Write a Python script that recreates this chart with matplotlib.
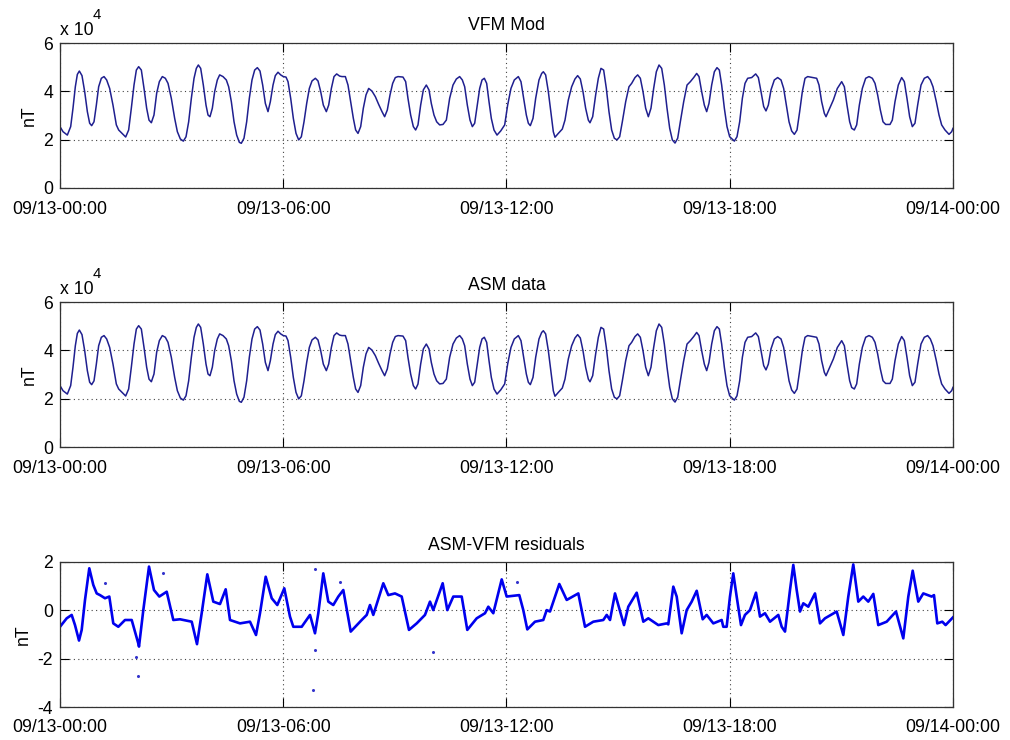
import numpy as np
import matplotlib
matplotlib.use('Agg')
from matplotlib import pyplot as plt

# scalar field along the orbit (hours, 1e4 nT)
vfm_hours = [0.0, 0.081, 0.197, 0.287, 0.349, 0.412, 0.466, 0.520, 0.591, 0.663,
             0.735, 0.797, 0.851, 0.914, 0.977, 1.039, 1.111, 1.183, 1.254, 1.335,
             1.424, 1.514, 1.577, 1.666, 1.765, 1.845, 1.917, 1.989, 2.052, 2.114,
             2.186, 2.258, 2.329, 2.392, 2.455, 2.526, 2.598, 2.670, 2.750, 2.831,
             2.903, 2.992, 3.082, 3.154, 3.234, 3.315, 3.387, 3.458, 3.530, 3.602,
             3.664, 3.718, 3.781, 3.852, 3.924, 3.978, 4.031, 4.094, 4.157, 4.228,
             4.291, 4.381, 4.470, 4.533, 4.605, 4.677, 4.748, 4.820, 4.873, 4.945,
             5.017, 5.088, 5.160, 5.232, 5.304, 5.375, 5.447, 5.519, 5.590, 5.653,
             5.725, 5.787, 5.859, 5.931, 6.002, 6.074, 6.128, 6.200, 6.271, 6.343,
             6.415, 6.486, 6.558, 6.630, 6.701, 6.773, 6.863, 6.934, 7.006, 7.077,
             7.158, 7.221, 7.293, 7.364, 7.436, 7.516, 7.579, 7.669, 7.740, 7.812,
             7.884, 7.946, 8.009, 8.081, 8.152, 8.224, 8.296, 8.385, 8.475, 8.564,
             8.654, 8.725, 8.797, 8.869, 8.941, 9.012, 9.084, 9.218, 9.290, 9.352,
             9.424, 9.496, 9.558, 9.621, 9.693, 9.765, 9.845, 9.917, 9.979, 10.051,
             10.123, 10.204, 10.293, 10.383, 10.472, 10.562, 10.652, 10.741, 10.813, 10.876,
             10.947, 11.019, 11.082, 11.145, 11.216, 11.279, 11.342, 11.404, 11.467, 11.530,
             11.592, 11.664, 11.745, 11.844, 11.951, 12.031, 12.120, 12.210, 12.318, 12.389,
             12.461, 12.533, 12.587, 12.640, 12.712, 12.784, 12.873, 12.945, 12.990, 13.052,
             13.124, 13.196, 13.258, 13.303, 13.393, 13.500, 13.572, 13.661, 13.751, 13.840,
             13.912, 13.984, 14.055, 14.127, 14.199, 14.244, 14.316, 14.396, 14.468, 14.539,
             14.611, 14.683, 14.754, 14.826, 14.898, 14.970, 15.041, 15.113, 15.203, 15.292,
             15.364, 15.453, 15.525, 15.597, 15.668, 15.740, 15.812, 15.883, 15.955, 16.027,
             16.099, 16.171, 16.242, 16.314, 16.386, 16.457, 16.529, 16.601, 16.672, 16.762,
             16.852, 16.941, 17.031, 17.111, 17.174, 17.245, 17.317, 17.380, 17.442, 17.514,
             17.586, 17.657, 17.720, 17.783, 17.855, 17.926, 17.998, 18.124, 18.195, 18.267,
             18.339, 18.410, 18.482, 18.590, 18.697, 18.769, 18.840, 18.912, 18.974, 19.037,
             19.109, 19.198, 19.288, 19.378, 19.449, 19.521, 19.593, 19.664, 19.736, 19.808,
             19.879, 19.951, 20.023, 20.094, 20.202, 20.336, 20.399, 20.470, 20.542, 20.587,
             20.668, 20.784, 20.891, 21.008, 21.080, 21.151, 21.223, 21.277, 21.348, 21.411,
             21.483, 21.563, 21.653, 21.742, 21.832, 21.904, 21.975, 22.047, 22.119, 22.190,
             22.307, 22.369, 22.441, 22.530, 22.620, 22.692, 22.763, 22.835, 22.907, 22.978,
             23.050, 23.140, 23.229, 23.319, 23.391, 23.462, 23.552, 23.624, 23.695, 23.785,
             23.893, 23.964, 24.0]
vfm_e4 = [2.54, 2.33, 2.19, 2.54, 3.30, 4.19, 4.70, 4.84, 4.65, 3.99,
          3.16, 2.68, 2.58, 2.74, 3.43, 4.19, 4.54, 4.61, 4.47, 4.12,
          3.43, 2.61, 2.40, 2.26, 2.11, 2.40, 3.30, 4.26, 4.88, 5.02,
          4.88, 4.12, 3.30, 2.81, 2.70, 3.02, 3.92, 4.40, 4.61, 4.54,
          4.33, 3.71, 2.88, 2.33, 2.03, 1.94, 2.12, 2.74, 3.71, 4.54,
          4.95, 5.09, 4.95, 4.26, 3.43, 3.02, 2.95, 3.30, 3.99, 4.47,
          4.68, 4.61, 4.47, 4.19, 3.57, 2.74, 2.19, 1.89, 1.85, 2.06,
          2.74, 3.71, 4.47, 4.88, 4.98, 4.84, 4.26, 3.50, 3.16, 3.57,
          4.26, 4.65, 4.79, 4.68, 4.61, 4.59, 4.40, 3.71, 2.88, 2.26,
          1.99, 2.12, 2.74, 3.50, 4.12, 4.43, 4.54, 4.43, 3.99, 3.43,
          3.16, 3.43, 4.12, 4.61, 4.72, 4.63, 4.61, 4.61, 4.26, 3.57,
          2.88, 2.40, 2.26, 2.54, 3.30, 3.85, 4.12, 4.01, 3.78, 3.46,
          3.16, 2.95, 3.23, 3.85, 4.33, 4.57, 4.61, 4.59, 4.40, 3.71,
          3.02, 2.54, 2.40, 2.61, 3.43, 4.06, 4.26, 4.06, 3.50, 3.02,
          2.74, 2.61, 2.63, 2.81, 3.71, 4.26, 4.51, 4.61, 4.47, 4.19,
          3.43, 2.81, 2.54, 2.68, 3.43, 4.12, 4.47, 4.54, 4.33, 3.57,
          2.88, 2.40, 2.19, 2.36, 2.61, 3.43, 4.12, 4.47, 4.61, 4.40,
          3.71, 3.02, 2.68, 2.58, 2.88, 3.71, 4.47, 4.74, 4.81, 4.68,
          3.99, 3.09, 2.33, 2.10, 2.26, 2.44, 2.81, 3.64, 4.19, 4.51,
          4.65, 4.51, 3.99, 3.30, 2.81, 2.70, 2.95, 3.85, 4.54, 4.95,
          4.88, 4.12, 3.16, 2.40, 2.06, 1.99, 2.12, 2.74, 3.57, 4.19,
          4.33, 4.57, 4.68, 4.54, 3.99, 3.30, 2.95, 3.30, 4.12, 4.81,
          5.09, 4.95, 4.26, 3.30, 2.47, 1.99, 1.86, 2.06, 2.74, 3.57,
          4.26, 4.40, 4.57, 4.74, 4.61, 3.99, 3.43, 3.16, 3.50, 4.26,
          4.81, 4.98, 4.88, 4.26, 3.30, 2.54, 2.12, 1.94, 2.12, 2.74,
          3.71, 4.33, 4.54, 4.57, 4.72, 4.57, 3.99, 3.37, 3.19, 3.43,
          4.06, 4.47, 4.57, 4.47, 4.12, 3.43, 2.74, 2.36, 2.22, 2.40,
          3.16, 3.99, 4.54, 4.61, 4.58, 4.54, 4.26, 3.57, 3.09, 2.95,
          3.23, 3.64, 4.12, 4.40, 4.19, 3.43, 2.74, 2.47, 2.40, 2.61,
          3.43, 4.12, 4.54, 4.61, 4.54, 4.33, 3.85, 3.23, 2.74, 2.63,
          2.63, 2.81, 3.57, 4.26, 4.57, 4.40, 3.71, 2.95, 2.54, 2.68,
          3.43, 4.26, 4.54, 4.61, 4.47, 4.19, 3.57, 3.02, 2.61, 2.40,
          2.22, 2.33, 2.47]

# ASM and VFM differ by ~1 nT, so at this scale the curves are the same
asm_hours = vfm_hours
asm_e4 = vfm_e4

res_hours = [0.0, 0.180, 0.314, 0.403, 0.511, 0.583, 0.672, 0.787, 0.895, 0.986,
             1.075, 1.209, 1.325, 1.432, 1.567, 1.747, 1.927, 2.104, 2.123, 2.239,
             2.392, 2.526, 2.669, 2.868, 3.045, 3.225, 3.540, 3.682, 3.808, 3.959,
             4.120, 4.300, 4.453, 4.569, 4.838, 5.106, 5.268, 5.375, 5.528, 5.690,
             5.840, 6.028, 6.181, 6.270, 6.496, 6.719, 6.853, 6.942, 7.076, 7.211,
             7.345, 7.480, 7.614, 7.813, 8.108, 8.243, 8.331, 8.420, 8.689, 8.823,
             9.003, 9.183, 9.379, 9.586, 9.809, 9.944, 10.032, 10.285, 10.409, 10.570,
             10.796, 10.946, 11.199, 11.422, 11.511, 11.645, 11.871, 12.005, 12.344, 12.451,
             12.559, 12.766, 12.989, 13.080, 13.169, 13.419, 13.618, 13.930, 14.110, 14.333,
             14.602, 14.693, 14.782, 14.916, 15.158, 15.273, 15.499, 15.677, 15.811, 16.080,
             16.305, 16.348, 16.483, 16.574, 16.708, 16.843, 16.977, 17.112, 17.273, 17.380,
             17.558, 17.783, 17.826, 17.917, 18.006, 18.095, 18.186, 18.302, 18.409, 18.544,
             18.705, 18.813, 18.947, 19.082, 19.305, 19.396, 19.485, 19.619, 19.708, 19.799,
             19.888, 19.977, 20.111, 20.291, 20.425, 20.560, 20.874, 21.052, 21.186, 21.320,
             21.455, 21.589, 21.723, 21.858, 21.992, 22.218, 22.468, 22.664, 22.799, 22.917,
             23.067, 23.202, 23.427, 23.489, 23.578, 23.712, 23.801, 24.0]
res_nT = [-0.68, -0.33, -0.19, -0.61, -1.25, -0.81, 0.43, 1.74, 1.05, 0.70,
          0.63, 0.50, 0.57, -0.54, -0.68, -0.40, -0.40, -1.37, -1.50, 0.01,
          1.81, 0.84, 0.57, 0.77, -0.40, -0.37, -0.47, -1.40, -0.12, 1.49,
          0.36, 0.26, 0.87, -0.40, -0.54, -0.47, -1.02, -0.12, 1.39, 0.50,
          0.22, 0.91, -0.26, -0.68, -0.68, -0.19, -0.95, -0.12, 1.53, 0.36,
          0.22, 0.57, 0.84, -0.88, -0.40, -0.19, 0.22, -0.19, 1.12, 0.63,
          0.70, 0.57, -0.81, -0.54, -0.19, 0.36, 0.01, 1.12, 0.01, 0.57,
          0.57, -0.81, -0.33, -0.12, 0.15, -0.12, 1.28, 0.57, 0.63, 0.01,
          -0.79, -0.47, -0.40, 0.01, -0.05, 1.09, 0.43, 0.70, -0.68, -0.47,
          -0.40, -0.19, -0.40, 0.70, -0.61, 0.15, 0.73, -0.47, -0.33, -0.61,
          -0.54, -0.58, 0.98, 0.57, -0.95, 0.01, 0.36, 0.81, -0.37, -0.19,
          -0.54, -0.40, -0.68, -0.68, 0.57, 1.53, 0.57, -0.61, -0.19, 0.01,
          0.73, -0.26, -0.12, -0.47, -0.19, -0.68, -0.88, 0.84, 1.88, 0.84,
          -0.05, 0.29, 0.15, 0.70, -0.54, -0.33, -0.05, -1.02, 0.57, 1.90,
          0.36, 0.57, 0.36, 0.68, -0.61, -0.47, -0.05, -1.16, 0.57, 1.64,
          0.36, 0.70, 0.57, 0.63, -0.54, -0.47, -0.61, -0.29]

# stray samples away from the main trace
spike_hours = [1.21, 2.03, 2.10, 2.78, 6.81, 6.85, 6.85, 7.52, 10.03, 12.27]
spike_nT = [1.13, -1.92, -2.70, 1.54, -3.30, 1.71, -1.64, 1.18, -1.71, 1.18]

tick_hours = [0, 6, 12, 18, 24]
tick_labels = ['09/13-00:00', '09/13-06:00', '09/13-12:00', '09/13-18:00', '09/14-00:00']

plt.rcParams['font.family'] = ['Liberation Sans', 'DejaVu Sans']
plt.rcParams['axes.unicode_minus'] = False
fs = 12.7

fig = plt.figure(figsize=(10.1, 7.4), dpi=100)
W, H = 1010.0, 740.0
# axes boxes in pixels: left, top, right, bottom
boxes = [(60, 43, 953, 188), (60, 302, 953, 447), (60, 562, 953, 707)]
axs = [fig.add_axes([l / W, 1 - b / H, (r - l) / W, (b - t) / H]) for (l, t, r, b) in boxes]

def style(ax, title):
    ax.set_xlim(0, 24)
    ax.set_xticks(tick_hours)
    ax.set_xticklabels(tick_labels)
    ax.set_title(title, fontsize=fs, pad=9)
    ax.set_ylabel('nT', fontsize=fs, labelpad=4)
    ax.tick_params(direction='in', length=6.5, width=0.8, top=True, right=True,
                   labelsize=fs, pad=5)
    ax.tick_params(axis='x', pad=9)
    ax.grid(True, color='#444444', linestyle=(0, (1, 3)), linewidth=0.8)
    for s in ax.spines.values():
        s.set_color('#333333')
        s.set_linewidth(0.9)

navy = '#1f1f8f'
for ax, hrs, vals, title in [(axs[0], vfm_hours, vfm_e4, 'VFM Mod'),
                             (axs[1], asm_hours, asm_e4, 'ASM data')]:
    ax.plot(hrs, np.array(vals) * 1e4, color=navy, lw=1.1)
    ax.set_ylim(0, 60000)
    ax.set_yticks([0, 20000, 40000, 60000])
    ax.set_yticklabels(['0', '2', '4', '6'])
    style(ax, title)
    ax.text(0.0, 1.085, 'x 10', transform=ax.transAxes, fontsize=fs, va='center', ha='left')
    ax.text(0.037, 1.19, '4', transform=ax.transAxes, fontsize=fs * 0.85, va='center', ha='left')

ax = axs[2]
ax.plot(res_hours, res_nT, color='#0000ee', lw=1.9)
ax.plot(spike_hours, spike_nT, linestyle='none', marker='o', ms=1.2, color='#3333cc')
ax.set_ylim(-4, 2)
ax.set_yticks([-4, -2, 0, 2])
style(ax, 'ASM-VFM residuals')

fig.savefig('out.png', dpi=100, facecolor='white')
